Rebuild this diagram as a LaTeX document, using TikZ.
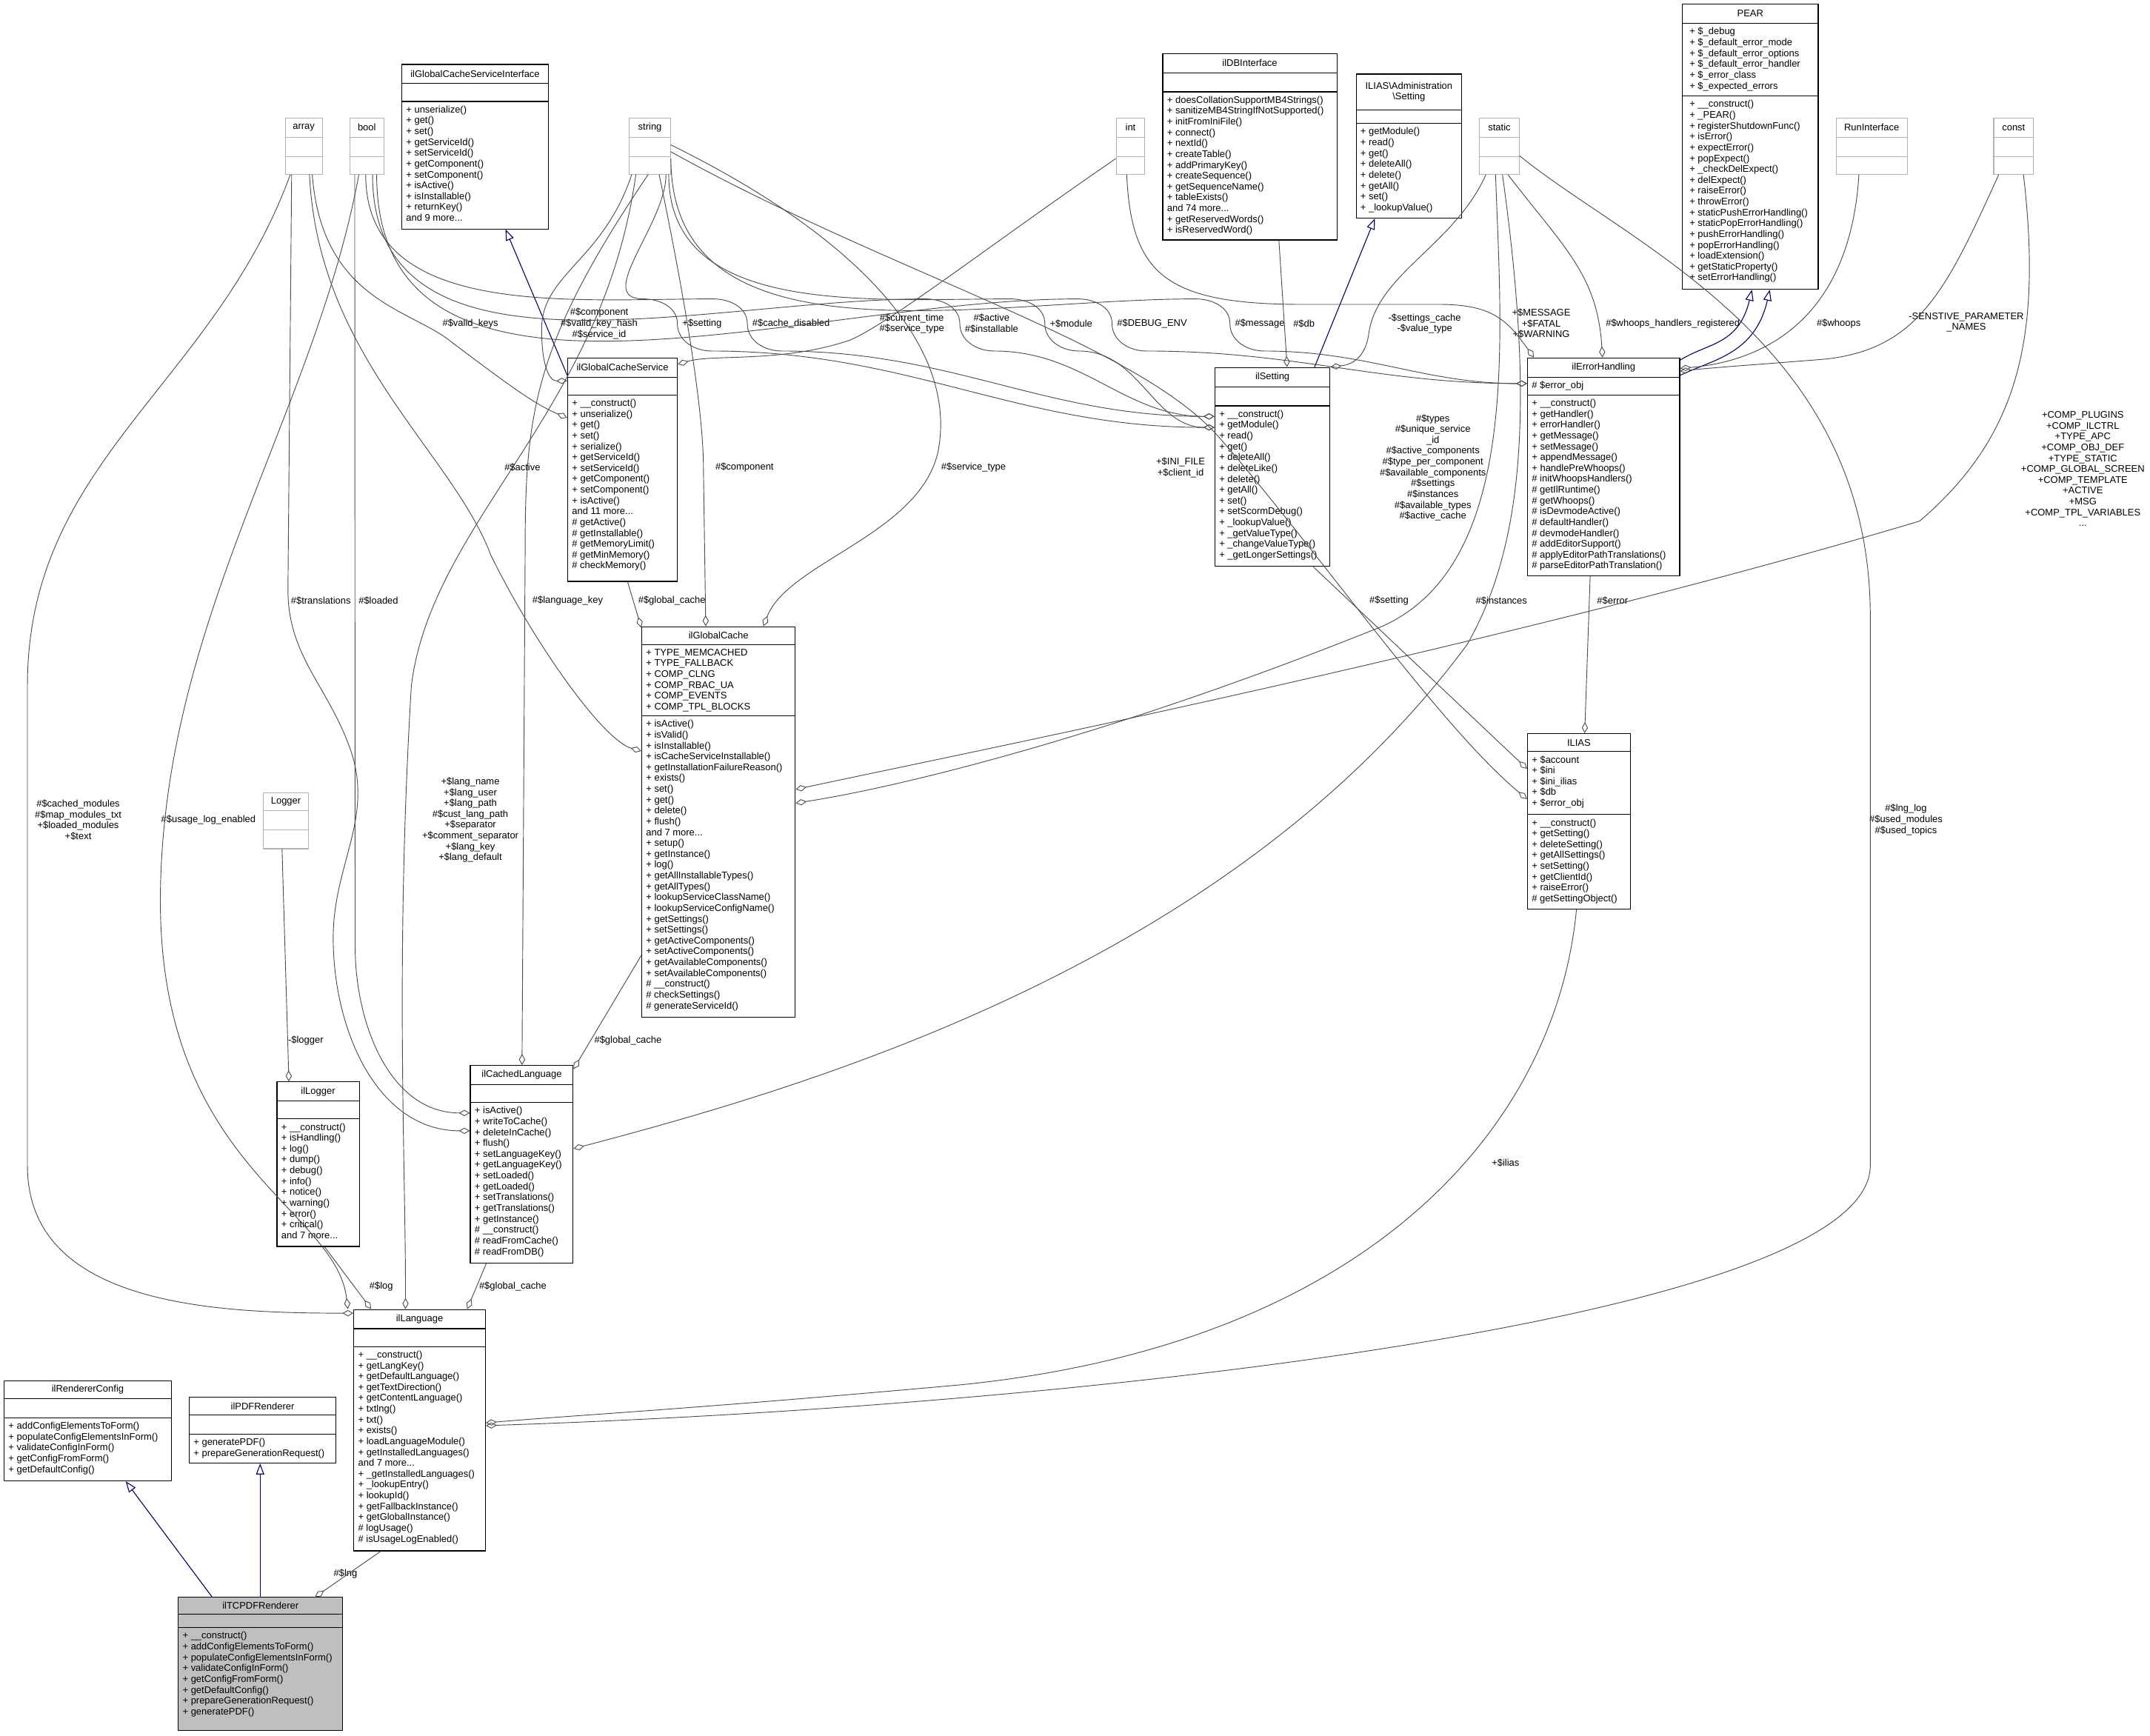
\documentclass[tikz,border=0pt]{standalone}
\usepackage{fontspec}
\setmainfont{Liberation Sans}
\usetikzlibrary{arrows.meta,fit}
\tikzset{
  x=1pt,y=-1pt,
  box/.style={draw=black,line width=0.6pt,inner sep=0pt},
  gbox/.style={draw=black!30,line width=0.6pt,inner sep=0pt},
  ttl/.style={font=\fontsize{7}{7.9}\selectfont,inner sep=0pt,align=center},
  lst/.style={font=\fontsize{7}{7.9}\selectfont,inner sep=0pt,align=left,anchor=north west},
  lbl/.style={font=\fontsize{7}{7.9}\selectfont,inner sep=0.5pt,align=center},
  agg/.style={draw=black!70,line width=0.5pt,-{Diamond[open,length=8pt,width=4.5pt,line width=0.5pt]}},
  inh/.style={draw=blue!45!black,line width=0.6pt,-{Triangle[open,length=8pt,width=6pt,line width=0.6pt]}},
}
\newcommand\cls[9]{%
  \path (#2,#3) coordinate (#1-a) (#4,#5) coordinate (#1-b);
  \node[#9,fit=(#1-a)(#1-b)] (#1) {};
  \draw[#9] (#2,#6) -- (#4,#6) (#2,#7) -- (#4,#7);
  \node[ttl] (#1-t) at ({(#2+#4)/2},{(#3+#6)/2}) {#8};
}
\newcommand\band[5]{%
  \node[lbl,anchor=west] (#4) at (#2+3,236) {#5};
  \draw[agg] #1 to[out=-90,in=180] (#2-25,218) to[out=0,in=90] (#2,236) to[out=-90,in=180] (#2+25,256) to[out=0,in=180] #3;
}
\begin{document}
\begin{tikzpicture}
\useasboundingbox (0,0) rectangle (1568,1266);
\fill[white] (0,0) rectangle (1568,1266);

% small gray boxes
\cls{array}{208}{86}{235}{127}{100}{114}{array}{gbox}
\cls{bool}{255}{86}{280}{127}{100}{114}{bool}{gbox}
\cls{string}{459}{86}{489}{127}{100}{114}{string}{gbox}
\cls{int}{814}{86}{835}{127}{100}{114}{int}{gbox}
\cls{static}{1079}{86}{1108}{127}{100}{114}{static}{gbox}
\cls{runif}{1339}{86}{1391}{127}{100}{114}{RunInterface}{gbox}
\cls{const}{1454}{86}{1483}{127}{100}{114}{const}{gbox}
\cls{Logger}{192}{578}{225}{619}{591}{605}{Logger}{gbox}

% classes
\cls{gcsi}{293}{47}{400}{167}{61}{74}{ilGlobalCacheServiceInterface}{box}
\node[lst] (gcsi-m) at (296,77) {+ unserialize()\\+ get()\\+ set()\\+ getServiceId()\\+ setServiceId()\\+ getComponent()\\+ setComponent()\\+ isActive()\\+ isInstallable()\\+ returnKey()\\and 9 more...};

\cls{db}{848}{39}{975}{175}{53}{67}{ilDBInterface}{box}
\node[lst] (db-m) at (851,70) {+ doesCollationSupportMB4Strings()\\+ sanitizeMB4StringIfNotSupported()\\+ initFromIniFile()\\+ connect()\\+ nextId()\\+ createTable()\\+ addPrimaryKey()\\+ createSequence()\\+ getSequenceName()\\+ tableExists()\\and 74 more...\\+ getReservedWords()\\+ isReservedWord()};

\cls{admset}{989}{54}{1066}{159}{80}{90}{ILIAS\textbackslash Administration\\\textbackslash Setting}{box}
\node[lst] (admset-m) at (992,93) {+ getModule()\\+ read()\\+ get()\\+ deleteAll()\\+ delete()\\+ getAll()\\+ set()\\+ \_lookupValue()};

\cls{pear}{1227}{3}{1326}{211}{17}{70}{PEAR}{box}
\node[lst] (pear-a) at (1232,20) {+ \$\_debug\\+ \$\_default\_error\_mode\\+ \$\_default\_error\_options\\+ \$\_default\_error\_handler\\+ \$\_error\_class\\+ \$\_expected\_errors};
\node[lst] (pear-m) at (1232,73) {+ \_\_construct()\\+ \_PEAR()\\+ registerShutdownFunc()\\+ isError()\\+ expectError()\\+ popExpect()\\+ \_checkDelExpect()\\+ delExpect()\\+ raiseError()\\+ throwError()\\+ staticPushErrorHandling()\\+ staticPopErrorHandling()\\+ pushErrorHandling()\\+ popErrorHandling()\\+ loadExtension()\\+ getStaticProperty()\\+ setErrorHandling()};

\cls{gcs}{414}{261}{494}{424}{275}{288}{ilGlobalCacheService}{box}
\node[lst] (gcs-m) at (417,291) {+ \_\_construct()\\+ unserialize()\\+ get()\\+ set()\\+ serialize()\\+ getServiceId()\\+ setServiceId()\\+ getComponent()\\+ setComponent()\\+ isActive()\\and 11 more...\\\# getActive()\\\# getInstallable()\\\# getMemoryLimit()\\\# getMinMemory()\\\# checkMemory()};

\cls{set}{886}{268}{970}{413}{282}{296}{ilSetting}{box}
\node[lst] (set-m) at (889,299) {+ \_\_construct()\\+ getModule()\\+ read()\\+ get()\\+ deleteAll()\\+ deleteLike()\\+ delete()\\+ getAll()\\+ set()\\+ setScormDebug()\\+ \_lookupValue()\\+ \_getValueType()\\+ \_changeValueType()\\+ \_getLongerSettings()};

\cls{err}{1114}{261}{1225}{420}{275}{288}{ilErrorHandling}{box}
\node[lst] (err-a) at (1117,278) {\# \$error\_obj};
\node[lst] (err-m) at (1117,291) {+ \_\_construct()\\+ getHandler()\\+ errorHandler()\\+ getMessage()\\+ setMessage()\\+ appendMessage()\\+ handlePreWhoops()\\\# initWhoopsHandlers()\\\# getIlRuntime()\\\# getWhoops()\\\# isDevmodeActive()\\\# defaultHandler()\\\# devmodeHandler()\\\# addEditorSupport()\\\# applyEditorPathTranslations()\\\# parseEditorPathTranslation()};

\cls{ilias}{1114}{535}{1189}{663}{548}{594}{ILIAS}{box}
\node[lst] (ilias-a) at (1117,551) {+ \$account\\+ \$ini\\+ \$ini\_ilias\\+ \$db\\+ \$error\_obj};
\node[lst] (ilias-m) at (1117,597) {+ \_\_construct()\\+ getSetting()\\+ deleteSetting()\\+ getAllSettings()\\+ setSetting()\\+ getClientId()\\+ raiseError()\\\# getSettingObject()};

\cls{gc}{468}{457}{580}{742}{470}{522}{ilGlobalCache}{box}
\node[lst] (gc-a) at (471,473) {+ TYPE\_MEMCACHED\\+ TYPE\_FALLBACK\\+ COMP\_CLNG\\+ COMP\_RBAC\_UA\\+ COMP\_EVENTS\\+ COMP\_TPL\_BLOCKS};
\node[lst] (gc-m) at (471,525) {+ isActive()\\+ isValid()\\+ isInstallable()\\+ isCacheServiceInstallable()\\+ getInstallationFailureReason()\\+ exists()\\+ set()\\+ get()\\+ delete()\\+ flush()\\and 7 more...\\+ setup()\\+ getInstance()\\+ log()\\+ getAllInstallableTypes()\\+ getAllTypes()\\+ lookupServiceClassName()\\+ lookupServiceConfigName()\\+ getSettings()\\+ setSettings()\\+ getActiveComponents()\\+ setActiveComponents()\\+ getAvailableComponents()\\+ setAvailableComponents()\\\# \_\_construct()\\\# checkSettings()\\\# generateServiceId()};

\cls{cl}{343}{777}{418}{921}{791}{804}{ilCachedLanguage}{box}
\node[lst] (cl-m) at (346,807) {+ isActive()\\+ writeToCache()\\+ deleteInCache()\\+ flush()\\+ setLanguageKey()\\+ getLanguageKey()\\+ setLoaded()\\+ getLoaded()\\+ setTranslations()\\+ getTranslations()\\+ getInstance()\\\# \_\_construct()\\\# readFromCache()\\\# readFromDB()};

\cls{log}{202}{789}{262}{909}{803}{816}{ilLogger}{box}
\node[lst] (log-m) at (205,819) {+ \_\_construct()\\+ isHandling()\\+ log()\\+ dump()\\+ debug()\\+ info()\\+ notice()\\+ warning()\\+ error()\\+ critical()\\and 7 more...};

\cls{lang}{258}{955}{354}{1131}{969}{982}{ilLanguage}{box}
\node[lst] (lang-m) at (261,985) {+ \_\_construct()\\+ getLangKey()\\+ getDefaultLanguage()\\+ getTextDirection()\\+ getContentLanguage()\\+ txtlng()\\+ txt()\\+ exists()\\+ loadLanguageModule()\\+ getInstalledLanguages()\\and 7 more...\\+ \_getInstalledLanguages()\\+ \_lookupEntry()\\+ lookupId()\\+ getFallbackInstance()\\+ getGlobalInstance()\\\# logUsage()\\\# isUsageLogEnabled()};

\cls{rc}{3}{1007}{125}{1080}{1020}{1034}{ilRendererConfig}{box}
\node[lst] (rc-m) at (6,1037) {+ addConfigElementsToForm()\\+ populateConfigElementsInForm()\\+ validateConfigInForm()\\+ getConfigFromForm()\\+ getDefaultConfig()};

\cls{pdf}{138}{1019}{245}{1067}{1032}{1046}{ilPDFRenderer}{box}
\node[lst] (pdf-m) at (141,1049) {+ generatePDF()\\+ prepareGenerationRequest()};

\path (130,1165) coordinate (tc-a) (250,1262) coordinate (tc-b);
\node[box,fill=black!25,fit=(tc-a)(tc-b)] (tc) {};
\draw[box] (130,1177) -- (250,1177) (130,1187) -- (250,1187);
\node[ttl] (tc-t) at (190,1171) {ilTCPDFRenderer};
\node[lst] (tc-m) at (133,1190) {+ \_\_construct()\\+ addConfigElementsToForm()\\+ populateConfigElementsInForm()\\+ validateConfigInForm()\\+ getConfigFromForm()\\+ getDefaultConfig()\\+ prepareGenerationRequest()\\+ generatePDF()};

% inheritance
\draw[inh] ([xshift=25]tc.north west) -- ([xshift=89]rc.south west);
\draw[inh] ([xshift=60]tc.north west) -- ([xshift=52]pdf.south west);
\draw[inh] ([yshift=-13]gcs.north west) -- ([xshift=76]gcsi.south west);
\draw[inh] ([xshift=73]set.north west) -- ([xshift=14]admset.south west);
\draw[inh] ([yshift=-2]err.north east) .. controls (1245,250) and (1268,252) .. ([xshift=51]pear.south west);
\draw[inh] ([yshift=-13]err.north east) .. controls (1250,262) and (1280,258) .. ([xshift=64]pear.south west);

% lower left aggregations
\node[lbl] (l-lng) at (252,1148) {\#\$lng};
\draw[agg] ([xshift=20]lang.south west) -- ([xshift=100]tc.north west);
\node[lbl] (l-log) at (278,938) {\#\$log};
\draw[agg] ([xshift=35]log.south west) -- ([xshift=13]lang.north west);
\node[lbl] (l-gc3) at (374,938) {\#\$global\_cache};
\draw[agg] ([xshift=12]cl.south west) -- ([xshift=83]lang.north west);
\node[lbl] (l-logger) at (223,759) {-\$logger};
\draw[agg] ([xshift=14]Logger.south west) -- ([xshift=9]log.north west);
\node[lbl] (l-gc2) at (458,759) {\#\$global\_cache};
\draw[agg] ([yshift=-240]gc.north west) -- ([yshift=-3]cl.north east);
\node[lbl] (l-gc1) at (490,438) {\#\$global\_cache};
\draw[agg] ([xshift=44]gcs.south west) -- ([yshift=-1]gc.north west);

\node[lbl] (l-cached) at (57,598) {\#\$cached\_modules\\\#\$map\_modules\_txt\\+\$loaded\_modules\\+\$text};
\draw[agg] ([xshift=4]array.south west) to[out=-110,in=90] (20,500) -- (20,850) to[out=-90,in=180] ([yshift=-3]lang.north west);
\node[lbl] (l-usage) at (152,598) {\#\$usage\_log\_enabled};
\draw[agg] ([xshift=7]bool.south west) .. controls (230,300) and (120,450) .. (117,650) .. controls (114,850) and (245,880) .. ([xshift=-4]lang.north west);
\node[lbl] (l-langs) at (343,598) {+\$lang\_name\\+\$lang\_user\\+\$lang\_path\\\#\$cust\_lang\_path\\+\$separator\\+\$comment\_separator\\+\$lang\_key\\+\$lang\_default};
\draw[agg] ([xshift=5]string.south west) .. controls (440,300) and (315,380) .. (300,500) .. controls (288,700) and (296,850) .. ([xshift=38]lang.north west);
\node[lbl] (l-trans) at (234,438) {\#\$translations};
\draw[agg] ([xshift=5]array.south west) -- (210,430) to[out=-90,in=110] (255,545) to[out=-70,in=90] (243,684) to[out=-90,in=180] ([yshift=-48]cl.north west);
\node[lbl] (l-loaded) at (276,438) {\#\$loaded};
\draw[agg] ([xshift=4]bool.south west) -- (259,690) to[out=-90,in=180] ([yshift=-35]cl.north west);
\node[lbl] (l-lk) at (414,438) {\#\$language\_key};
\draw[agg] ([xshift=14]string.south west) .. controls (390,250) and (383,300) .. (383,400) -- ([xshift=38]cl.north west);
\node[lbl] (l-comp2) at (543,341) {\#\$component};
\draw[agg] ([xshift=22]string.south west) .. controls (500,220) and (513,300) .. (513,341) -- ([xshift=47]gc.north west);
\node[lbl] (l-active) at (381,341) {\#\$active};
\draw[agg] ([xshift=18]array.south west) .. controls (232,260) and (330,330) .. (358,405) .. controls (390,470) and (440,540) .. ([yshift=-91]gc.north west);
\node[lbl] (l-st) at (710,341) {\#\$service\_type};
\draw[agg] ([yshift=-20]string.north east) .. controls (620,170) and (700,250) .. (684,330) .. controls (670,390) and (575,410) .. ([xshift=89]gc.north west);

% ilGlobalCacheService attributes
\node[lbl] (l-comp1) at (437,236) {\#\$component\\\#\$valid\_key\_hash\\\#\$service\_id};
\draw[agg] ([xshift=2]string.south west) .. controls (440,190) and (395,200) .. (395,240) .. controls (395,265) and (400,278) .. ([yshift=-17]gcs.north west);
\node[lbl] (l-vk) at (343,236) {\#\$valid\_keys};
\draw[agg] ([xshift=20]array.south west) .. controls (235,220) and (300,225) .. (330,250) .. controls (370,280) and (390,295) .. ([yshift=-44]gcs.north west);
\node[lbl] (l-ct) at (665,236) {\#\$current\_time\\\#\$service\_type};
\draw[agg] ([yshift=-30]int.north west) .. controls (720,180) and (650,235) .. (620,248) .. controls (570,265) and (520,258) .. ([yshift=-5]gcs.north east);

% band edges to ilSetting / ilErrorHandling
\band{([xshift=12]bool.south west)}{545}{([yshift=-36]set.north west)}{l-cd}{\#\$cache\_disabled}
\band{([xshift=27]string.south west)}{494}{([yshift=-44]set.north west)}{l-setting}{+\$setting}
\band{([xshift=17]bool.south west)}{700}{([yshift=-36]set.north west)}{l-ai}{\#\$active\\\#\$installable}
\band{([xshift=29]string.south west)}{762}{([yshift=-44]set.north west)}{l-mod}{+\$module}
\band{([xshift=20]bool.south west)}{811}{([yshift=-19]err.north west)}{l-dbg}{\#\$DEBUG\_ENV}
\band{([yshift=-30]string.north east)}{897}{([yshift=-19]err.north west)}{l-msg}{\#\$message}

\node[lbl] (l-db) at (951,236) {\#\$db};
\draw[agg] ([xshift=85]db.south west) -- ([xshift=53]set.north west);
\node[lbl] (l-sc) at (1039,236) {-\$settings\_cache\\-\$value\_type};
\draw[agg] ([xshift=5]static.south west) .. controls (1060,180) and (1003,200) .. (998,245) .. controls (995,262) and (985,266) .. (set.north east);
\node[lbl] (l-msg2) at (1124,236) {+\$MESSAGE\\+\$FATAL\\+\$WARNING};
\draw[agg] ([xshift=8]int.south west) .. controls (825,200) and (850,222) .. (950,222) -- (1050,222) .. controls (1090,222) and (1100,235) .. ([xshift=5]err.north west);
\node[lbl] (l-whr) at (1220,236) {\#\$whoops\_handlers\_registered};
\draw[agg] ([xshift=21]static.south west) .. controls (1140,180) and (1165,200) .. ([xshift=55]err.north west);
\node[lbl] (l-wh) at (1341,236) {\#\$whoops};
\draw[agg] ([xshift=17]runif.south west) .. controls (1350,220) and (1300,262) .. ([yshift=-8]err.north east);
\node[lbl] (l-sens) at (1434,235) {-SENSTIVE\_PARAMETER\\\_NAMES};
\draw[agg] ([xshift=4]const.south west) .. controls (1420,210) and (1400,255) .. (1330,262) .. controls (1280,266) and (1250,268) .. ([yshift=-10]err.north east);

% ILIAS
\node[lbl] (l-err) at (1176,438) {\#\$error};
\draw[agg] ([xshift=46]err.south west) -- ([xshift=42]ilias.north west);
\node[lbl] (l-set) at (1013,438) {\#\$setting};
\draw[agg] ([xshift=72]set.south west) -- ([yshift=-26]ilias.north west);
\node[lbl] (l-ini) at (861,341) {+\$INI\_FILE\\+\$client\_id};
\draw[agg] ([yshift=-25]string.north east) .. controls (650,200) and (830,250) .. (890,320) .. controls (960,400) and (1050,530) .. ([yshift=-48]ilias.north west);

% static / const to ilGlobalCache, ilCachedLanguage, ilLanguage
\node[lbl] (l-types) at (1045,341) {\#\$types\\\#\$unique\_service\\\_id\\\#\$active\_components\\\#\$type\_per\_component\\\#\$available\_components\\\#\$settings\\\#\$instances\\\#\$available\_types\\\#\$active\_cache};
\draw[agg] ([xshift=12]static.south west) .. controls (1095,250) and (1110,420) .. (1000,460) .. controls (800,540) and (650,575) .. ([yshift=-129]gc.north east);
\node[lbl] (l-comp) at (1519,342) {+COMP\_PLUGINS\\+COMP\_ILCTRL\\+TYPE\_APC\\+COMP\_OBJ\_DEF\\+TYPE\_STATIC\\+COMP\_GLOBAL\_SCREEN\\+COMP\_TEMPLATE\\+ACTIVE\\+MSG\\+COMP\_TPL\_VARIABLES\\...};
\draw[agg] ([xshift=22]const.south west) .. controls (1490,250) and (1470,320) .. (1400,380) .. controls (1100,470) and (700,550) .. ([yshift=-119]gc.north east);
\node[lbl] (l-inst) at (1095,438) {\#\$instances};
\draw[agg] ([xshift=17]static.south west) .. controls (1120,300) and (1110,400) .. (1070,470) .. controls (900,700) and (600,790) .. ([yshift=-61]cl.north east);
\node[lbl] (l-lnglog) at (1390,598) {\#\$lng\_log\\\#\$used\_modules\\\#\$used\_topics};
\draw[agg] ([yshift=-28]static.north east) .. controls (1190,180) and (1364,250) .. (1364,450) -- (1364,850) .. controls (1364,960) and (800,1025) .. ([yshift=-85]lang.north east);
\node[lbl] (l-ilias) at (1098,848) {+\$ilias};
\draw[agg] ([xshift=36]ilias.south west) .. controls (1135,820) and (1000,980) .. (700,1010) .. controls (500,1028) and (420,1032) .. ([yshift=-83]lang.north east);
\end{tikzpicture}
\end{document}
